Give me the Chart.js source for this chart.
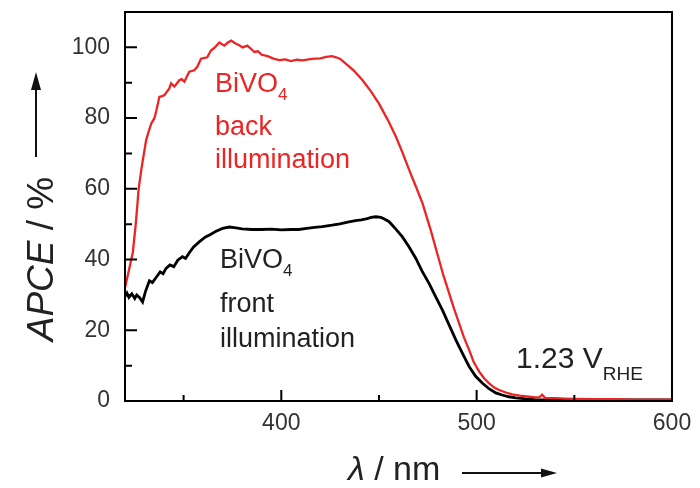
<!DOCTYPE html>
<html>
<head>
<meta charset="utf-8">
<script src="https://cdn.jsdelivr.net/npm/chart.js@4.4.0/dist/chart.umd.min.js"></script>
<style>
  html, body { margin: 0; padding: 0; background: #fff; }
</style>
</head>
<body>
<canvas id="chart" width="700" height="488"></canvas>
<script>
// ====== DATA ======
const backWavelength = [320, 322, 324, 325.5, 327, 328.5, 330, 330.8, 332, 333.4, 335, 336, 337.6, 339, 340.2, 341.5, 342.7, 343.6, 345.3, 347.8, 349, 350.4, 352.9, 355.5, 357, 358.9, 362.1, 364, 366, 368.3, 370.8, 372.5, 374.3, 376.8, 378.5, 380.2, 382.6, 384.5, 386.2, 388, 390, 393, 396, 399, 402, 405, 408, 411, 414, 417, 420, 423, 426, 428, 430, 433, 437, 441.6, 446, 450, 454.5, 458.7, 462, 465.5, 469, 472.3, 476.5, 480.8, 483, 485.9, 488.5, 491, 493.5, 496.2, 498.5, 501.3, 504, 506.4, 509, 511.5, 515, 518.2, 522, 526.9, 530, 532, 533.5, 535, 540, 545, 550, 560, 570, 580, 590, 600];
const backApce = [32, 37, 42, 50, 60, 66, 71, 73.7, 76, 78.4, 79.9, 82, 86, 86.2, 86.5, 87.5, 88.4, 89.8, 88.9, 90.7, 91, 90.3, 93.1, 93.5, 94.5, 96.8, 97.2, 99.1, 100, 101.4, 100.5, 101.3, 101.9, 101, 100.6, 100, 100.5, 99.6, 98.7, 98.9, 97.9, 97.5, 96.8, 96.4, 96.6, 96.1, 96.5, 96.3, 96.6, 96.8, 96.9, 97.3, 97.5, 97.2, 96.8, 95.4, 93.5, 90.7, 87.5, 84.1, 79.5, 74.7, 70.3, 65.3, 60.5, 55.9, 48.3, 39.8, 35.5, 30.5, 26, 22, 18, 14.4, 11, 8.3, 6.3, 5, 3.8, 3.1, 2.4, 1.9, 1.5, 1.2, 1.0, 1.0, 1.8, 0.9, 0.8, 0.7, 0.6, 0.5, 0.5, 0.4, 0.4, 0.4];

const frontWavelength = [320, 321, 322, 323.5, 325, 326, 327.5, 329, 330.5, 332.5, 334, 336, 338, 339.5, 341, 343, 345, 347, 349.4, 351, 353, 355, 358, 361, 363.5, 366.6, 370, 373.4, 376, 380, 385, 390, 395, 400, 405, 409, 413, 417, 421, 426, 430, 434, 438, 441, 444, 446, 448.4, 451, 453, 455.2, 458, 462, 465.5, 468.9, 472, 475.7, 479, 482.5, 486, 489.4, 493, 496.2, 499.5, 503, 506.5, 509.8, 513, 516.6, 520, 525.2, 530, 540, 560, 580, 600];
const frontApce = [29.5, 30.5, 29.3, 30.3, 29, 30, 29.2, 28, 31, 34, 33.5, 35, 36.5, 36, 37.5, 38.5, 38, 39.8, 40.8, 40.3, 42, 43.5, 45, 46.3, 47, 48, 48.8, 49.2, 49, 48.7, 48.5, 48.5, 48.6, 48.4, 48.5, 48.5, 48.8, 49.1, 49.3, 49.7, 50.1, 50.6, 51, 51.2, 51.6, 51.9, 52.1, 51.9, 51.4, 50.7, 49, 46.4, 43.5, 40.3, 36.8, 33.2, 29.5, 25.7, 21.4, 17.2, 13.2, 9.7, 7, 5, 3.4, 2.3, 1.7, 1.2, 0.9, 0.6, 0.4, 0.3, 0.3, 0.3, 0.3];

const xMajorTicks = [400, 500, 600];
const xMinorTicks = [350, 450, 550];
const yMajorTicks = [0, 20, 40, 60, 80, 100];
const yMinorTicks = [10, 30, 50, 70, 90];

const RED = "#ec2424";
const FONT = '"Liberation Sans", Arial, Helvetica, sans-serif';

// ====== HELPER TEKS ======
function drawParts(ctx, parts, x, y, color) {
  ctx.save();
  ctx.fillStyle = color;
  ctx.textBaseline = "alphabetic";
  ctx.textAlign = "left";
  let cx = x;
  parts.forEach((p) => {
    ctx.font = p.font;
    ctx.fillText(p.text, cx, y + (p.dy || 0));
    cx += ctx.measureText(p.text).width;
  });
  ctx.restore();
}

function noPadding(s) {
  s.paddingTop = 0;
  s.paddingBottom = 0;
  s.paddingLeft = 0;
  s.paddingRight = 0;
}

// ====== PLUGIN BINGKAI, TICK & LABEL ======
const decorPlugin = {
  id: "decor",
  afterDraw(chart) {
    const { ctx, chartArea: a, scales } = chart;
    const xs = scales.x, ys = scales.y;

    ctx.save();
    ctx.strokeStyle = "#000";
    ctx.lineWidth = 2;
    ctx.strokeRect(a.left, a.top, a.right - a.left, a.bottom - a.top);

    // tick ke dalam
    ctx.beginPath();
    xMajorTicks.forEach((v) => {
      const px = xs.getPixelForValue(v);
      ctx.moveTo(px, a.bottom); ctx.lineTo(px, a.bottom - 11);
    });
    xMinorTicks.forEach((v) => {
      const px = xs.getPixelForValue(v);
      ctx.moveTo(px, a.bottom); ctx.lineTo(px, a.bottom - 6);
    });
    yMajorTicks.forEach((v) => {
      const py = ys.getPixelForValue(v);
      ctx.moveTo(a.left, py); ctx.lineTo(a.left + 12, py);
    });
    yMinorTicks.forEach((v) => {
      const py = ys.getPixelForValue(v);
      ctx.moveTo(a.left, py); ctx.lineTo(a.left + 7, py);
    });
    ctx.stroke();

    // judul sumbu Y (diputar)
    ctx.save();
    ctx.translate(53, 259);
    ctx.rotate(-Math.PI / 2);
    ctx.fillStyle = "#222";
    ctx.font = "italic 37px " + FONT;
    const w1 = ctx.measureText("APCE").width;
    ctx.font = "37px " + FONT;
    const w2 = ctx.measureText(" / %").width;
    const sx = -(w1 + w2) / 2;
    ctx.font = "italic 37px " + FONT;
    ctx.fillText("APCE", sx, 0);
    ctx.font = "37px " + FONT;
    ctx.fillText(" / %", sx + w1, 0);
    ctx.restore();

    // panah sumbu Y
    ctx.fillStyle = "#111";
    ctx.strokeStyle = "#111";
    ctx.lineWidth = 2;
    ctx.beginPath();
    ctx.moveTo(36, 157); ctx.lineTo(36, 86);
    ctx.stroke();
    ctx.beginPath();
    ctx.moveTo(36, 72); ctx.lineTo(31, 90); ctx.lineTo(41, 90); ctx.closePath();
    ctx.fill();

    // judul sumbu X
    drawParts(ctx, [
      { text: "λ", font: "italic 34px " + FONT },
      { text: " / nm", font: "34px " + FONT },
    ], 348, 480, "#222");

    // panah sumbu X
    ctx.beginPath();
    ctx.moveTo(462, 473); ctx.lineTo(543, 473);
    ctx.stroke();
    ctx.beginPath();
    ctx.moveTo(557, 473); ctx.lineTo(541, 468.5); ctx.lineTo(541, 477.5); ctx.closePath();
    ctx.fill();

    // anotasi
    const big = "27px " + FONT, sub = "17px " + FONT;
    drawParts(ctx, [{ text: "BiVO", font: big }, { text: "4", font: sub, dy: 8 }], 215, 92, RED);
    drawParts(ctx, [{ text: "back", font: big }], 215, 135, RED);
    drawParts(ctx, [{ text: "illumination", font: big }], 215, 168, RED);

    drawParts(ctx, [{ text: "BiVO", font: big }, { text: "4", font: sub, dy: 8 }], 220, 268, "#222");
    drawParts(ctx, [{ text: "front", font: big }], 220, 312, "#222");
    drawParts(ctx, [{ text: "illumination", font: big }], 220, 347, "#222");

    drawParts(ctx, [
      { text: "1.23 V", font: "30px " + FONT },
      { text: "RHE", font: "19px " + FONT, dy: 12 },
    ], 516, 368, "#222");

    ctx.restore();
  },
};

// ====== GRAFIK ======
const toPoints = (xs, ys) => xs.map((x, i) => ({ x, y: ys[i] }));

new Chart(document.getElementById("chart").getContext("2d"), {
  type: "line",
  data: {
    datasets: [
      {
        label: "BiVO4 back illumination",
        data: toPoints(backWavelength, backApce),
        borderColor: RED,
        borderWidth: 2.3,
        pointRadius: 0,
        tension: 0,
      },
      {
        label: "BiVO4 front illumination",
        data: toPoints(frontWavelength, frontApce),
        borderColor: "#000",
        borderWidth: 2.8,
        pointRadius: 0,
        tension: 0,
      },
    ],
  },
  options: {
    responsive: false,
    animation: false,
    layout: { autoPadding: false, padding: { top: 12, right: 28, left: 0, bottom: 0 } },
    plugins: { legend: { display: false }, tooltip: { enabled: false } },
    scales: {
      x: {
        type: "linear",
        min: 320,
        max: 600,
        grid: { display: false, drawTicks: false },
        border: { display: false },
        afterBuildTicks: (s) => { s.ticks = xMajorTicks.map((v) => ({ value: v })); },
        afterFit: (s) => { s.height = 87; noPadding(s); },
        ticks: { color: "#333", padding: 9, font: { family: FONT, size: 23 } },
      },
      y: {
        min: 0,
        max: 110,
        grid: { display: false, drawTicks: false },
        border: { display: false },
        afterBuildTicks: (s) => { s.ticks = yMajorTicks.map((v) => ({ value: v })); },
        afterFit: (s) => { s.width = 125; noPadding(s); },
        ticks: { color: "#333", padding: 15, font: { family: FONT, size: 23 } },
      },
    },
  },
  plugins: [decorPlugin],
});
</script>
</body>
</html>
